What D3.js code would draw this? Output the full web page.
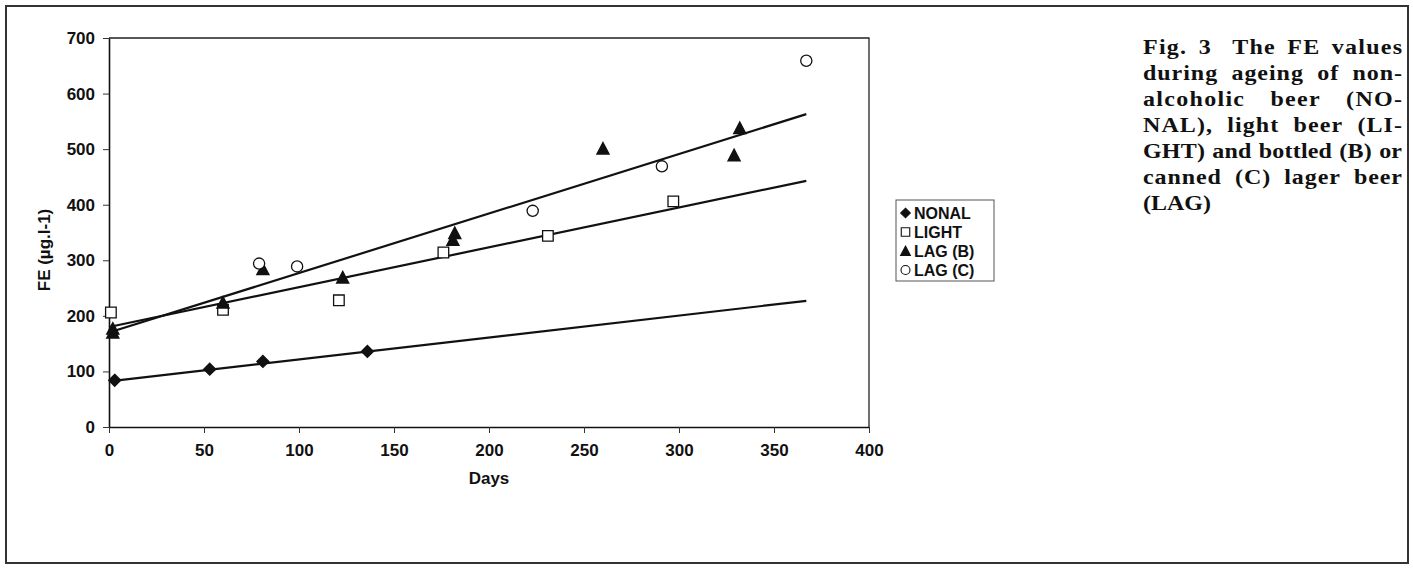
<!DOCTYPE html>
<html>
<head>
<meta charset="utf-8">
<script src="https://cdn.jsdelivr.net/npm/d3@7"></script>
<style>
  body { margin: 0; background: #fff; }
  svg { display: block; }
</style>
</head>
<body>
<div id="chart"></div>
<script>
// values (days, FE in ug/l)
const nonalDays = [3, 53, 81, 136];
const nonalFE = [84, 104, 118, 136];

const lightDays = [1, 60, 121, 176, 231, 297];
const lightFE = [206, 211, 228, 314, 344, 406];

const lagBDays = [2, 2, 60, 81, 123, 181, 182, 260, 329, 332];
const lagBFE = [170, 177, 224, 284, 269, 337, 349, 501, 489, 538];

const lagCDays = [79, 99, 223, 291, 367];
const lagCFE = [294, 289, 389, 469, 659];

// linear trend lines as drawn in the figure (end points)
const trendDays = [0, 367];
const nonalTrend = [82, 227];
const lightTrend = [180, 443];
const lagTrend = [170, 563];

const xTicks = [0, 50, 100, 150, 200, 250, 300, 350, 400];
const yTicks = [0, 100, 200, 300, 400, 500, 600, 700];

const seriesNames = ["NONAL", "LIGHT", "LAG (B)", "LAG (C)"];
const captionLines = [
    ["Fig.", "3", "The", "FE", "values"],
    ["during", "ageing", "of", "non-"],
    ["alcoholic", "beer", "(NO-"],
    ["NAL),", "light", "beer", "(LI-"],
    ["GHT)", "and", "bottled", "(B)", "or"],
    ["canned", "(C)", "lager", "beer"],
    ["(LAG)"]
];

const W = 1413, H = 570;
const svg = d3.select("#chart")
    .append("svg")
    .attr("width", W)
    .attr("height", H);

// outer frame
svg.append("rect")
    .attr("x", 6).attr("y", 6)
    .attr("width", 1402).attr("height", 557)
    .attr("fill", "none")
    .attr("stroke", "#333")
    .attr("stroke-width", 2);

const x = d3.scaleLinear().domain([0, 400]).range([109, 869]);
const y = d3.scaleLinear().domain([0, 700]).range([427, 38]);

const sans = "'Liberation Sans', Arial, Helvetica, sans-serif";

// plot area border (top / right)
svg.append("path")
    .attr("d", `M${x(0)},${y(700)}H${x(400)}V${y(0)}`)
    .attr("fill", "none")
    .attr("stroke", "#222")
    .attr("stroke-width", 1.3);

const yAxis = svg.append("g")
    .attr("transform", `translate(${x(0)},0)`)
    .call(d3.axisLeft(y).tickValues(yTicks).tickSize(6).tickSizeOuter(0).tickPadding(8));

const xAxis = svg.append("g")
    .attr("transform", `translate(0,${y(0)})`)
    .call(d3.axisBottom(x).tickValues(xTicks).tickSize(6).tickSizeOuter(0).tickPadding(11));

[yAxis, xAxis].forEach(g => {
    g.select(".domain").attr("stroke", "#111").attr("stroke-width", 1.6);
    g.selectAll(".tick line").attr("stroke", "#333").attr("stroke-width", 1);
    g.selectAll(".tick text")
        .attr("fill", "#111")
        .style("font-family", sans)
        .style("font-weight", "bold")
        .style("font-size", "17px");
});

// axis titles
svg.append("text")
    .attr("x", (x(0) + x(400)) / 2)
    .attr("y", 478)
    .attr("dy", "0.35em")
    .attr("text-anchor", "middle")
    .style("font-family", sans)
    .style("font-weight", "bold")
    .style("font-size", "17px")
    .attr("fill", "#111")
    .text("Days");

svg.append("text")
    .attr("transform", "translate(44,250) rotate(-90)")
    .attr("dy", "0.35em")
    .attr("text-anchor", "middle")
    .style("font-family", sans)
    .style("font-weight", "bold")
    .style("font-size", "17px")
    .attr("fill", "#111")
    .text("FE (µg.l-1)");

// marker shapes
function markerPath(kind, s) {
    const p = d3.path();
    if (kind === "diamond") {
        p.moveTo(0, -s); p.lineTo(s, 0); p.lineTo(0, s); p.lineTo(-s, 0); p.closePath();
    } else if (kind === "square") {
        p.rect(-s, -s, 2 * s, 2 * s);
    } else if (kind === "triangle") {
        p.moveTo(0, -s * 1.05); p.lineTo(s * 1.05, s * 0.95); p.lineTo(-s * 1.05, s * 0.95); p.closePath();
    } else {
        p.arc(0, 0, s, 0, 2 * Math.PI);
    }
    return p.toString();
}

const series = [
    { name: seriesNames[0], days: nonalDays, fe: nonalFE, kind: "diamond", size: 6, filled: true },
    { name: seriesNames[1], days: lightDays, fe: lightFE, kind: "square", size: 5.3, filled: false },
    { name: seriesNames[2], days: lagBDays, fe: lagBFE, kind: "triangle", size: 5.8, filled: true },
    { name: seriesNames[3], days: lagCDays, fe: lagCFE, kind: "circle", size: 5.6, filled: false }
];

// trend lines
const line = d3.line().x(d => x(d[0])).y(d => y(d[1]));
[nonalTrend, lightTrend, lagTrend].forEach(t => {
    svg.append("path")
        .attr("d", line(trendDays.map((d, i) => [d, t[i]])))
        .attr("fill", "none")
        .attr("stroke", "#111")
        .attr("stroke-width", 2.2);
});

// points
series.forEach(s => {
    svg.append("g")
        .selectAll("path")
        .data(s.days.map((d, i) => [d, s.fe[i]]))
        .enter().append("path")
        .attr("transform", d => `translate(${x(d[0])},${y(d[1])})`)
        .attr("d", markerPath(s.kind, s.size))
        .attr("fill", s.filled ? "#111" : "#fff")
        .attr("stroke", "#111")
        .attr("stroke-width", 1.3);
});

// legend
const legend = svg.append("g");
legend.append("rect")
    .attr("x", 896).attr("y", 200)
    .attr("width", 98).attr("height", 81)
    .attr("fill", "none")
    .attr("stroke", "#555")
    .attr("stroke-width", 1);

series.forEach((s, i) => {
    const ly = 213 + i * 19;
    legend.append("path")
        .attr("transform", `translate(905.5,${ly})`)
        .attr("d", markerPath(s.kind, s.size * 0.8))
        .attr("fill", s.filled ? "#111" : "#fff")
        .attr("stroke", "#111")
        .attr("stroke-width", 1.1);
    legend.append("text")
        .attr("x", 914)
        .attr("y", ly)
        .attr("dy", "0.36em")
        .style("font-family", sans)
        .style("font-weight", "bold")
        .style("font-size", "16px")
        .attr("fill", "#111")
        .text(s.name);
});

// caption, justified between left and right edges
const capLeft = 1143, capRight = 1402, capTop = 54, capStep = 26;
const serif = "'Liberation Serif', 'Times New Roman', Times, serif";
const cap = svg.append("g")
    .style("font-family", serif)
    .style("font-weight", "bold")
    .style("font-size", "24px")
    .attr("fill", "#111");

captionLines.forEach((words, li) => {
    const by = capTop + li * capStep;
    const last = li === captionLines.length - 1;
    let nodes = words.map(w => cap.append("text").text(w));
    let widths = nodes.map(n => n.node().getComputedTextLength());
    const weights = words.slice(1).map((w, i) => (li === 0 && i === 1) ? 1.8 : 1);
    const wsum = d3.sum(weights);
    let gapUnit = 6;
    if (!last && words.length > 1) {
        // spread part of the slack into letter spacing, the rest into word gaps
        const nChars = d3.sum(words, w => w.length);
        const slack = capRight - capLeft - d3.sum(widths) - wsum * 6;
        const ls = Math.max(0, Math.min(1.3, slack * 0.45 / nChars));
        nodes.forEach(n => n.style("letter-spacing", ls + "px"));
        widths = nodes.map((n, i) => n.node().getComputedTextLength());
        gapUnit = (capRight - capLeft - d3.sum(widths) + ls) / wsum;
    }
    let cx = capLeft;
    nodes.forEach((n, i) => {
        n.attr("transform", `translate(${cx},${by}) scale(1,0.86)`);
        cx += widths[i] + (i < weights.length ? weights[i] * gapUnit : 0);
    });
});
</script>
</body>
</html>
